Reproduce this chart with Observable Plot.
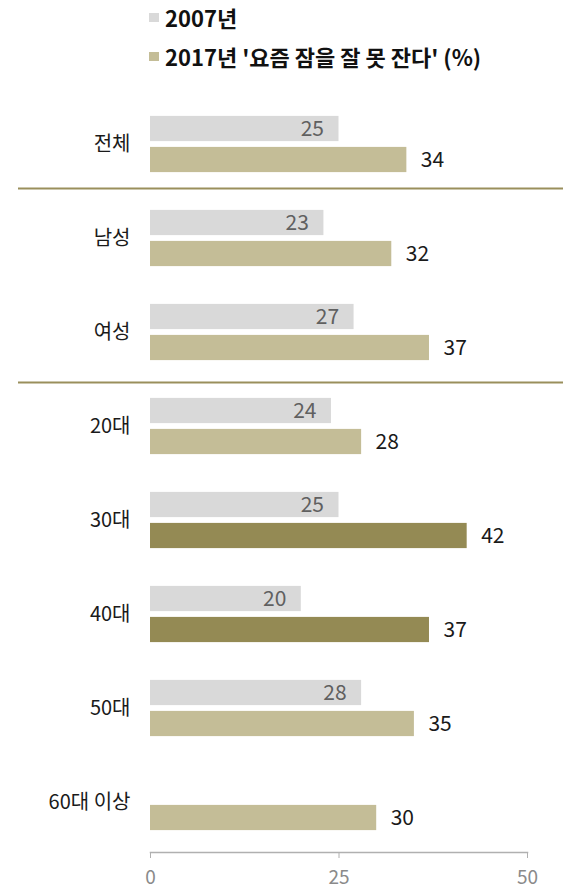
<!DOCTYPE html>
<html>
<head>
<meta charset="utf-8">
<script src="https://cdn.jsdelivr.net/npm/d3@7"></script>
<script src="https://cdn.jsdelivr.net/npm/@observablehq/plot@0.6"></script>
<style>
  html, body { margin: 0; padding: 0; background: #fff; }
  body { width: 563px; font-family: 'Noto Sans CJK KR', 'Noto Sans', sans-serif; }
  #legend { position: relative; height: 90px; }
  .row { position: absolute; left: 149px; height: 30px; line-height: 30px; display: flex; align-items: center;
         font-size: 22px; font-weight: 700; color: #111; white-space: nowrap; }
  .sw { width: 10px; height: 9px; margin-right: 6px; display: inline-block; }
  #chart svg { display: block; }
</style>
</head>
<body>
<div id="legend"></div>
<div id="chart"></div>
<script>
// ---- data ----
const categories = ["전체", "남성", "여성", "20대", "30대", "40대", "50대", "60대 이상"];
const values2007 = [25, 23, 27, 24, 25, 20, 28, null];
const values2017 = [34, 32, 37, 28, 42, 37, 35, 30];
const highlighted = ["30대", "40대"];
const seriesLabels = ["2007년", "2017년 '요즘 잠을 잘 못 잔다' (%)"];
const xTicks = [0, 25, 50];
const separatorsBelow = ["전체"];   // line drawn just under this group
const separatorsAbove = ["20대"];   // line drawn just above this group

const colors = { y2007: "#d9d9d9", y2017: "#c4bd97", hi: "#948a54", sep: "#9a8f5c" };

// ---- legend ----
const legend = document.getElementById("legend");
[[seriesLabels[0], colors.y2007, 2], [seriesLabels[1], colors.y2017, 41]].forEach(([t, c, top]) => {
  const r = document.createElement("div");
  r.className = "row";
  r.style.top = top + "px";
  const s = document.createElement("span");
  s.className = "sw";
  s.style.background = c;
  r.appendChild(s);
  r.appendChild(document.createTextNode(t));
  legend.appendChild(r);
});

// ---- chart ----
const rows = categories.map((c, i) => ({ cat: c, v2007: values2007[i], v2017: values2017[i] }));
const rows2007 = rows.filter(d => d.v2007 != null);

const chart = Plot.plot({
  width: 563,
  height: 800,
  marginLeft: 150,
  marginRight: 36,
  marginTop: 4,
  marginBottom: 38,
  style: { fontFamily: "'Noto Sans CJK KR', 'Noto Sans', sans-serif", background: "#fff" },
  x: { domain: [0, 50], axis: null, label: null },
  y: { domain: categories, padding: 0, axis: null, label: null },
  marks: [
    Plot.barX(rows2007, { x: "v2007", y: "cat", fill: colors.y2007, insetTop: 18.9, insetBottom: 49.9 }),
    Plot.barX(rows, { x: "v2017", y: "cat", fill: d => highlighted.includes(d.cat) ? colors.hi : colors.y2017, insetTop: 49.9, insetBottom: 18.9 }),
    Plot.text(rows2007, { x: "v2007", y: "cat", text: d => String(d.v2007), dy: -15.5, dx: -15, textAnchor: "end", fill: "#606060", fontSize: 21 }),
    Plot.text(rows, { x: "v2017", y: "cat", text: d => String(d.v2017), dy: 15.5, dx: 14, textAnchor: "start", fill: "#1a1a1a", fontSize: 21 }),
    Plot.ruleY(separatorsBelow, { y: d => d, dy: 44, stroke: colors.sep, strokeWidth: 2, insetLeft: -132, insetRight: -36 }),
    Plot.ruleY(separatorsAbove, { y: d => d, dy: -44, stroke: colors.sep, strokeWidth: 2, insetLeft: -132, insetRight: -36 }),
    Plot.axisY({ tickSize: 0, tickPadding: 20, fontSize: 20, fill: "#1a1a1a", label: null }),
    Plot.frame({ anchor: "bottom", stroke: "#b0b0b0", strokeWidth: 1.5 }),
    Plot.axisX({ ticks: xTicks, tickSize: 6, tickPadding: 12, stroke: "#b0b0b0", fill: "#8a8a8a", fontSize: 19, label: null, tickFormat: d => String(d) })
  ]
});
document.getElementById("chart").appendChild(chart);
</script>
</body>
</html>
